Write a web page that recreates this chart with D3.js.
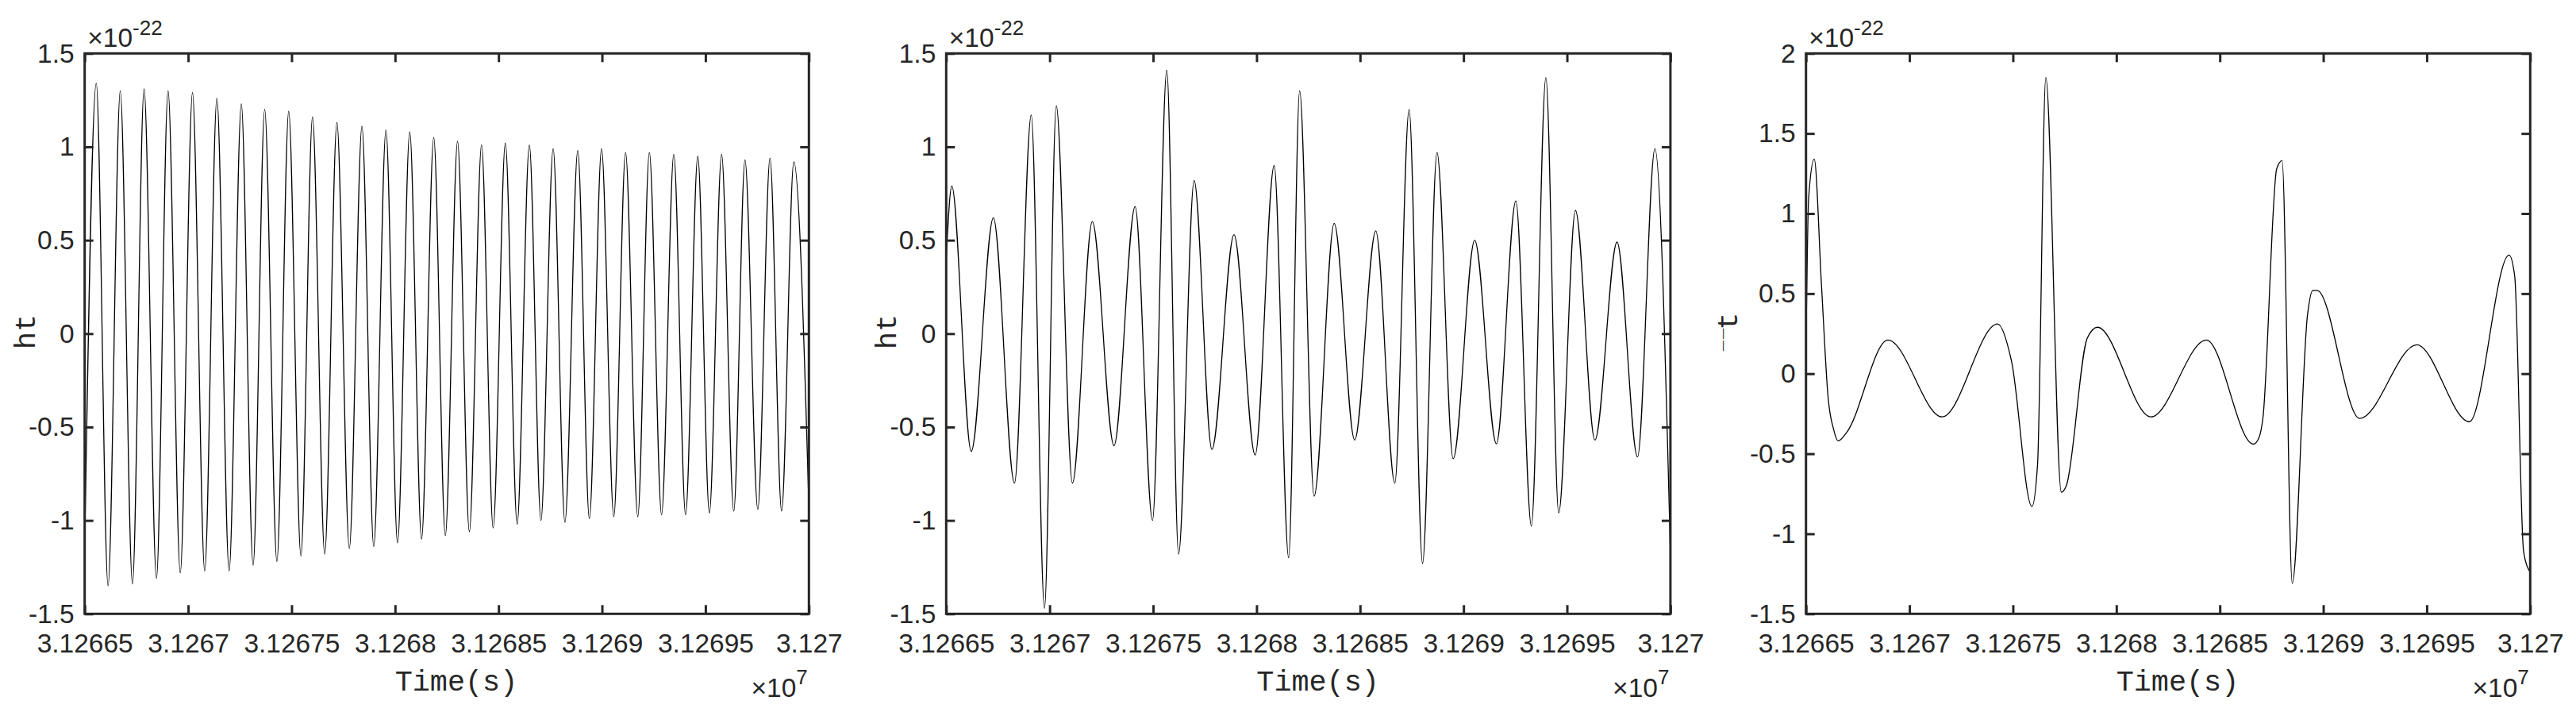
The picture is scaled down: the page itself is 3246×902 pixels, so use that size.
<!DOCTYPE html>
<html>
<head>
<meta charset="utf-8">
<script src="https://cdn.jsdelivr.net/npm/d3@7"></script>
<style>
  body { margin: 0; background: #fff; }
  svg text { fill: #262626; }
</style>
</head>
<body>
<div id="chart"></div>
<script>
// shared x ticks (seconds)
const xTicks = [31266500, 31267000, 31267500, 31268000, 31268500, 31269000, 31269500, 31270000];
const xTickLabels = ["3.12665", "3.1267", "3.12675", "3.1268", "3.12685", "3.1269", "3.12695", "3.127"];

// y ticks, in units of 1e-22
const yTicks12 = [-1.5, -1, -0.5, 0, 0.5, 1, 1.5];
const yTicks3 = [-1.5, -1, -0.5, 0, 0.5, 1, 1.5, 2];

// panel 1 : turning points
const time1 = [31266500, 31266556, 31266613, 31266672, 31266731, 31266787, 31266847, 31266903, 31266962, 31267021,
  31267080, 31267139, 31267198, 31267257, 31267314, 31267370, 31267429, 31267486, 31267545, 31267601,
  31267660, 31267719, 31267779, 31267840, 31267897, 31267956, 31268012, 31268071, 31268128, 31268187,
  31268243, 31268302, 31268359, 31268418, 31268474, 31268533, 31268590, 31268649, 31268705, 31268764,
  31268821, 31268883, 31268939, 31268998, 31269057, 31269114, 31269173, 31269229, 31269288, 31269347,
  31269404, 31269463, 31269519, 31269578, 31269637, 31269691, 31269753, 31269812, 31269868, 31269927,
  31270000];
const ht1 = [-1.15, 1.34, -1.35, 1.30, -1.34, 1.31, -1.31, 1.30, -1.28, 1.29,
  -1.27, 1.26, -1.27, 1.23, -1.24, 1.20, -1.22, 1.19, -1.19, 1.16,
  -1.18, 1.13, -1.15, 1.11, -1.14, 1.09, -1.12, 1.08, -1.10, 1.05,
  -1.08, 1.03, -1.06, 1.01, -1.04, 1.02, -1.02, 1.01, -1.00, 0.99,
  -1.01, 0.98, -0.99, 0.99, -0.98, 0.97, -0.98, 0.97, -0.97, 0.96,
  -0.97, 0.95, -0.96, 0.96, -0.95, 0.93, -0.94, 0.94, -0.95, 0.92,
  -0.93];

// panel 2
const time2 = [31266500, 31266527, 31266621, 31266728, 31266830, 31266911, 31266975, 31267032, 31267110, 31267206,
  31267311, 31267413, 31267497, 31267566, 31267623, 31267698, 31267784, 31267891, 31267993, 31268085,
  31268155, 31268208, 31268278, 31268375, 31268474, 31268576, 31268668, 31268737, 31268802, 31268872,
  31268950, 31269054, 31269159, 31269253, 31269328, 31269398, 31269460, 31269541, 31269635, 31269742,
  31269841, 31269925, 31270000];
const ht2 = [0.40, 0.79, -0.63, 0.62, -0.80, 1.17, -1.47, 1.22, -0.80, 0.60,
  -0.60, 0.68, -1.00, 1.41, -1.18, 0.82, -0.62, 0.53, -0.65, 0.90,
  -1.20, 1.30, -0.87, 0.59, -0.57, 0.55, -0.80, 1.20, -1.23, 0.97,
  -0.67, 0.50, -0.59, 0.71, -1.03, 1.37, -0.96, 0.66, -0.57, 0.49,
  -0.66, 0.99, -1.18];

// panel 3
const time3 = [31266500, 31266513, 31266540, 31266575, 31266607, 31266634, 31266655, 31266695, 31266896, 31267158,
  31267426, 31267493, 31267592, 31267619, 31267659, 31267734, 31267758, 31267859, 31267908, 31268167,
  31268435, 31268662, 31268689, 31268708, 31268775, 31268801, 31268850, 31268924, 31268949, 31268970,
  31269176, 31269452, 31269706, 31269898, 31269925, 31269968, 31270000];
const ht3 = [0.15, 1.10, 1.34, 0.55, -0.15, -0.35, -0.42, -0.37, 0.21, -0.27,
  0.31, 0.08, -0.83, -0.57, 1.85, -0.74, -0.70, 0.22, 0.29, -0.27,
  0.21, -0.44, -0.40, -0.28, 1.28, 1.33, -1.31, 0.37, 0.52, 0.52,
  -0.28, 0.18, -0.30, 0.74, 0.61, -1.11, -1.24];

const panels = [
  {left: 106.7, times: time1, vals: ht1, yDomain: [-1.5, 1.5], yTicks: yTicks12, ylabel: "ht", ylabelX: 44},
  {left: 1192.3, times: time2, vals: ht2, yDomain: [-1.5, 1.5], yTicks: yTicks12, ylabel: "ht", ylabelX: 1129},
  {left: 2275.7, times: time3, vals: ht3, yDomain: [-1.5, 2], yTicks: yTicks3, ylabel: null, ylabelX: 2189}
];

const W = 3246, H = 902;
const plotW = 912.6, plotTop = 67.3, plotBottom = 773.3;
const ink = "#262626";
const sans = "'Liberation Sans', Arial, Helvetica, sans-serif";
const mono = "'Liberation Mono', 'DejaVu Sans Mono', monospace";

let svg = d3.select("#chart")
  .append("svg")
  .attr("width", W)
  .attr("height", H);

svg.append("rect").attr("width", W).attr("height", H).attr("fill", "#fff");

function renderPanel(p, i) {
  const x = d3.scaleLinear().domain([31266500, 31270000]).range([p.left, p.left + plotW]);
  const y = d3.scaleLinear().domain(p.yDomain).range([plotBottom, plotTop]);

  const g = svg.append("g");

  // clip the trace to the axes box
  g.append("clipPath").attr("id", "clip" + i)
    .append("rect")
    .attr("x", p.left).attr("y", plotTop)
    .attr("width", plotW).attr("height", plotBottom - plotTop);

  const pts = p.times.map((t, k) => [t, p.vals[k]]);
  g.append("path")
    .datum(pts)
    .attr("clip-path", `url(#clip${i})`)
    .attr("fill", "none")
    .attr("stroke", "#000")
    .attr("stroke-width", 1.3)
    .attr("d", d3.line().x(d => x(d[0])).y(d => y(d[1])).curve(d3.curveMonotoneX));

  // axes, ticks pointing inward on all four sides
  const bx = g.append("g").attr("transform", `translate(0,${plotBottom})`)
    .call(d3.axisBottom(x).tickValues(xTicks).tickSize(-11).tickPadding(25)
      .tickFormat((d, k) => xTickLabels[k]));
  const tx = g.append("g").attr("transform", `translate(0,${plotTop})`)
    .call(d3.axisTop(x).tickValues(xTicks).tickSize(-11).tickFormat(""));
  const ly = g.append("g").attr("transform", `translate(${p.left},0)`)
    .call(d3.axisLeft(y).tickValues(p.yTicks).tickSize(-11).tickPadding(13)
      .tickFormat(d => String(d)));
  const ry = g.append("g").attr("transform", `translate(${p.left + plotW},0)`)
    .call(d3.axisRight(y).tickValues(p.yTicks).tickSize(-11).tickFormat(""));

  [bx, tx, ly, ry].forEach(a => {
    a.select(".domain").remove();
    a.selectAll("line").attr("stroke", ink).attr("stroke-width", 3);
    a.selectAll("text").attr("fill", ink).style("font-family", sans).style("font-size", "33.5px");
  });

  g.append("rect")
    .attr("x", p.left).attr("y", plotTop)
    .attr("width", plotW).attr("height", plotBottom - plotTop)
    .attr("fill", "none").attr("stroke", ink).attr("stroke-width", 3);

  // y exponent
  const ey = g.append("text").attr("x", p.left + 3.5).attr("y", 59.3)
    .style("font-family", sans).style("font-size", "33.5px");
  ey.append("tspan").text("\u00D710");
  ey.append("tspan").attr("dy", -15.3).style("font-size", "26px").text("-22");

  // x exponent
  const ex = g.append("text").attr("x", p.left + plotW - 1.5).attr("y", 877.7)
    .attr("text-anchor", "end")
    .style("font-family", sans).style("font-size", "33.5px");
  ex.append("tspan").text("\u00D710");
  ex.append("tspan").attr("dy", -15.7).style("font-size", "26px").text("7");

  // axis labels
  g.append("text")
    .attr("x", p.left + plotW / 2 + 12).attr("y", 870)
    .attr("text-anchor", "middle")
    .style("font-family", mono).style("font-size", "36.8px")
    .text("Time(s)");

  const yl = g.append("text")
    .attr("transform", `translate(${p.ylabelX},418) rotate(-90)`)
    .attr("text-anchor", "middle")
    .style("font-family", mono).style("font-size", "36.8px");
  if (p.ylabel) {
    yl.text(p.ylabel);
  } else {
    // third panel label renders as two raised dashes and a t
    yl.append("tspan").style("font-size", "22px").text("\u00AF");
    yl.append("tspan").style("font-size", "22px").attr("dx", 2).text("\u00AF");
    yl.append("tspan").attr("dx", -2).text("t");
  }
}

panels.forEach(renderPanel);
</script>
</body>
</html>
